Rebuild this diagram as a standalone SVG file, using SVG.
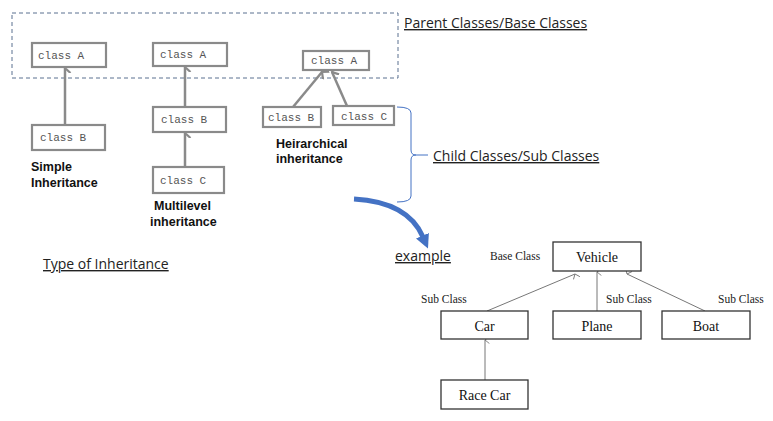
<svg xmlns="http://www.w3.org/2000/svg" width="773" height="421" viewBox="0 0 773 421">
<style>
.cb{fill:#fff;stroke:#8a8a8a;stroke-width:2.2}
.ct{font-family:"Liberation Mono",monospace;font-size:11px;fill:#555}
.lb{font-family:"Liberation Sans",Arial,sans-serif;font-weight:bold;font-size:12.5px;fill:#111}
.ul{font-family:"Open Sans","Liberation Sans",sans-serif;font-size:14px;fill:#222;text-decoration:underline}
.gl{stroke:#8a8a8a;stroke-width:2.5;fill:none}
.vb{fill:#fff;stroke:#333;stroke-width:1.3}
.vt{font-family:"Liberation Serif",serif;font-size:14px;fill:#111;text-anchor:middle}
.sl{font-family:"Liberation Serif",serif;font-size:11.5px;fill:#222}
.tl{stroke:#777;stroke-width:1;fill:none}
</style>
<defs>
<marker id="ga" viewBox="0 0 10 10" refX="5" refY="1.5" markerWidth="10" markerHeight="10" markerUnits="userSpaceOnUse" orient="auto-start-reverse">
<path d="M0,7 L5,1.5 L10,7" fill="none" stroke="#8a8a8a" stroke-width="2.2"/>
</marker>
<marker id="ta" viewBox="0 0 8 8" refX="4" refY="1" markerWidth="7" markerHeight="7" markerUnits="userSpaceOnUse" orient="auto-start-reverse">
<path d="M0,6 L4,1 L8,6" fill="none" stroke="#777" stroke-width="1"/>
</marker>
<marker id="ba" viewBox="0 0 10 10" refX="1" refY="5" markerWidth="14" markerHeight="15" markerUnits="userSpaceOnUse" orient="auto">
<path d="M0,0 L10,5 L0,10 Z" fill="#4472C4"/>
</marker>
</defs>
<rect x="12" y="13" width="386" height="65" fill="none" stroke="#5a7090" stroke-width="1" stroke-dasharray="4,3"/>
<g id="connectors">
<line class="gl" x1="65" y1="125" x2="65" y2="68" marker-end="url(#ga)"/>
<line class="gl" x1="185" y1="107" x2="185" y2="67" marker-end="url(#ga)"/>
<line class="gl" x1="185" y1="167" x2="185" y2="133" marker-end="url(#ga)"/>
<line class="gl" x1="293" y1="107" x2="322" y2="72" marker-end="url(#ga)"/>
<line class="gl" x1="347" y1="106" x2="332" y2="72" marker-end="url(#ga)"/>
<line class="tl" x1="487" y1="311" x2="575" y2="274" marker-end="url(#ta)"/>
<line class="tl" x1="597" y1="311" x2="597" y2="272" marker-end="url(#ta)"/>
<line class="tl" x1="705" y1="311" x2="627" y2="274" marker-end="url(#ta)"/>
<line class="tl" x1="485" y1="380" x2="485" y2="340" marker-end="url(#ta)"/>
<path d="M354,199 Q408,202 423,237" fill="none" stroke="#4472C4" stroke-width="5" marker-end="url(#ba)"/>
<path d="M397,107 Q411,107 411,113 L411,150 Q411,155 416,155 Q411,155 411,160 L411,196 Q411,202 397,202" fill="none" stroke="#4472C4" stroke-width="1"/>
<line x1="416" y1="155" x2="428" y2="155" stroke="#4472C4" stroke-width="1"/>
</g>
<g id="simpleA"><rect class="cb" x="32" y="43" width="74" height="24"/><text class="ct" x="38" y="59">class A</text></g>
<g id="simpleB"><rect class="cb" x="32" y="125" width="73" height="25"/><text class="ct" x="40" y="141">class B</text></g>
<text class="lb" x="31" y="171">Simple</text>
<text class="lb" x="31" y="187">Inheritance</text>
<g id="multiA"><rect class="cb" x="153" y="43" width="74" height="23"/><text class="ct" x="160" y="58">class A</text></g>
<g id="multiB"><rect class="cb" x="153" y="107" width="73" height="25"/><text class="ct" x="161" y="123">class B</text></g>
<g id="multiC"><rect class="cb" x="153" y="167" width="71" height="26"/><text class="ct" x="160" y="184">class C</text></g>
<text class="lb" x="154" y="210">Multilevel</text>
<text class="lb" x="150" y="226">inheritance</text>
<g id="hierA"><rect class="cb" x="303" y="51" width="66" height="19"/><text class="ct" x="311" y="64">class A</text></g>
<g id="hierB"><rect class="cb" x="263" y="107" width="58" height="20"/><text class="ct" x="268" y="121">class B</text></g>
<g id="hierC"><rect class="cb" x="333" y="106" width="61" height="19"/><text class="ct" x="341" y="120">class C</text></g>
<text class="lb" x="276" y="148">Heirarchical</text>
<text class="lb" x="276" y="163">inheritance</text>
<text class="ul" x="404" y="28">Parent Classes/Base Classes</text>
<text class="ul" x="433" y="161">Child Classes/Sub Classes</text>
<text class="ul" x="43" y="269">Type of Inheritance</text>
<text class="ul" x="395" y="261">example</text>
<text class="sl" x="490" y="260">Base Class</text>
<g id="vehicle"><rect class="vb" x="553" y="242" width="88" height="29"/><text class="vt" x="597" y="262">Vehicle</text></g>
<g id="car"><rect class="vb" x="441" y="311" width="87" height="28"/><text class="vt" x="484.5" y="331">Car</text></g>
<g id="plane"><rect class="vb" x="553" y="311" width="88" height="28"/><text class="vt" x="597" y="331">Plane</text></g>
<g id="boat"><rect class="vb" x="662" y="311" width="88" height="28"/><text class="vt" x="706" y="331">Boat</text></g>
<g id="racecar"><rect class="vb" x="441" y="380" width="87" height="29"/><text class="vt" x="484.5" y="400">Race Car</text></g>
<text class="sl" x="421" y="303">Sub Class</text>
<text class="sl" x="606" y="303">Sub Class</text>
<text class="sl" x="718" y="303">Sub Class</text>
</svg>
